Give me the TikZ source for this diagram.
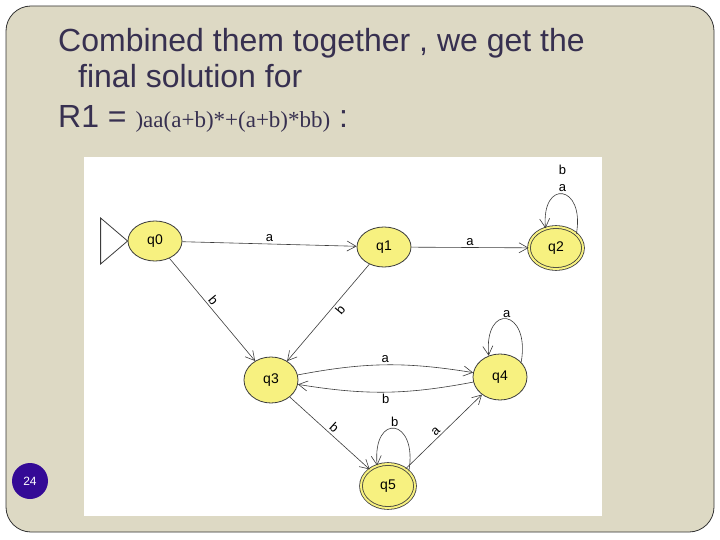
\documentclass[tikz,border=0pt]{standalone}
\usepackage{fontspec}
\setmainfont{Liberation Sans}
\newfontfamily\timesf{Liberation Serif}
\usetikzlibrary{arrows.meta,shapes.geometric}
\definecolor{slidebg}{RGB}{221,217,196}
\definecolor{titlecol}{RGB}{55,48,80}
\definecolor{stateyel}{RGB}{247,241,128}
\definecolor{edgecol}{RGB}{60,60,60}
\definecolor{pagecirc}{RGB}{52,10,150}
\tikzset{
  state/.style={ellipse, draw=edgecol, fill=stateyel, line width=0.8pt,
    minimum width=54pt, minimum height=40pt, inner sep=0pt, font=\fontsize{14}{16}\selectfont},
  accept/.style={state, double=stateyel, double distance=2pt, fill=stateyel},
  trans/.style={draw=edgecol, line width=0.6pt, -{Straight Barb[length=9pt,width=10pt]}},
  elab/.style={font=\fontsize{13}{15}\selectfont, text=black, inner sep=2pt},
  titletext/.style={font=\fontsize{32}{38}\selectfont, text=titlecol, anchor=base west, inner sep=0pt}
}
\begin{document}
\begin{tikzpicture}[x=1pt,y=-1pt]
\useasboundingbox (0,0) rectangle (720,540);
\fill[white] (0,0) rectangle (720,540);
\draw[fill=slidebg, draw=black!80, line width=0.8pt, rounded corners=25pt] (6,6) rectangle (714,532);
% title
\node[titletext] (t1) at (58,52) {Combined them together , we get the};
\node[titletext] (t2) at (78,88) {final solution for};
\node[titletext] (t3) at (58,128) {R1 = {\timesf\fontsize{23}{26}\selectfont)aa(a+b)*+(a+b)*bb)} :};
% picture area
\fill[white] (84,157) rectangle (602,516);
% states
\node[state] (q0) at (155,241) {q0};
\node[state] (q1) at (384,247) {q1};
\node[accept, minimum height=42pt] (q2) at (556,248) {q2};
\node[state, minimum height=46pt] (q3) at (271,380) {q3};
\node[state, minimum height=46pt] (q4) at (500,377) {q4};
\node[accept, minimum height=44pt] (q5) at (388,486) {q5};
% start triangle
\draw[draw=edgecol, line width=0.8pt] (q0.west) -- ++(-27,-23) -- ++(0,46) -- cycle;
% transitions
\draw[trans] (q0) -- node[elab, above, pos=0.5] {a} (q1);
\draw[trans] (q1) -- node[elab, above, pos=0.5] {a} (q2);
\draw[trans] (q0) -- node[elab, above, sloped, pos=0.45] {b} (q3);
\draw[trans] (q1) -- node[elab, below, sloped, pos=0.42] {b} (q3);
\draw[trans] (q3) to[bend left=10] node[elab, above] {a} (q4);
\draw[trans] (q4) to[bend left=10] node[elab, below] {b} (q3);
\draw[trans] (q3) -- node[elab, above, sloped, pos=0.5] {b} (q5);
\draw[trans] (q5) -- node[elab, above, sloped, pos=0.45] {a} (q4);
\draw[trans] (q2.35) .. controls +(-80:50) and +(-95:50) .. node[elab, above, align=center, inner sep=2pt] {b\\[2pt]a} (q2.118);
\draw[trans] (q4.35) .. controls +(-80:54) and +(-95:54) .. node[elab, above, inner sep=1pt] {a} (q4.118);
\draw[trans] (q5.35) .. controls +(-80:54) and +(-95:54) .. node[elab, above, inner sep=1pt] {b} (q5.118);
% page number
\node[circle, fill=pagecirc, minimum size=36pt, inner sep=0pt, text=white, font=\fontsize{12}{14}\selectfont] (pn) at (30,481) {24};
\end{tikzpicture}
\end{document}
